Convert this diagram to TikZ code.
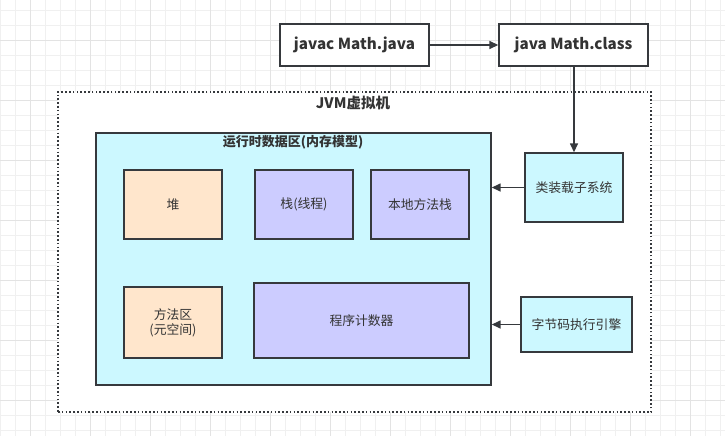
\documentclass[tikz,border=0pt]{standalone}
\usepackage{fontspec}
\setmainfont{Noto Sans CJK SC}
\usetikzlibrary{arrows.meta}
\definecolor{bordercol}{HTML}{36393D}
\definecolor{txtcol}{HTML}{333333}
\definecolor{cyanfill}{HTML}{CCF8FF}
\definecolor{orangefill}{HTML}{FFE6CC}
\definecolor{purplefill}{HTML}{CCCCFF}
\tikzset{
  box/.style={draw=bordercol, line width=1.4pt, inner sep=0pt, align=center, text=txtcol, font=\fontsize{12.8}{15}\selectfont},
  cmdbox/.style={box, fill=white, font=\bfseries\fontsize{15.2}{17}\selectfont},
  conn/.style={draw=bordercol, line width=1.5pt, -{Triangle[length=9pt,width=8pt]}},
}
\begin{document}
\begin{tikzpicture}[x=1pt,y=-1pt]
\useasboundingbox (0,0) rectangle (725,436);
\fill[white] (0,0) rectangle (725,436);
% grid
\foreach \x in {0,15,...,720} \draw[black!6, line width=0.5pt] (\x,0) -- (\x,436);
\foreach \y in {10,25,...,435} \draw[black!6, line width=0.5pt] (0,\y) -- (725,\y);
\foreach \x in {30,90,...,720} \draw[black!11, line width=0.6pt] (\x,0) -- (\x,436);
\foreach \y in {40,100,...,435} \draw[black!11, line width=0.6pt] (0,\y) -- (725,\y);
% JVM container
\node[draw=bordercol, fill=white, line width=1.6pt, dash pattern=on 1.6pt off 2.2pt,
      minimum width=593pt, minimum height=320pt, inner sep=0pt] (jvm) at (354.5,252) {};
\node[text=txtcol, font=\bfseries\fontsize{14.5}{16}\selectfont] (jvmlabel) at (353,103) {JVM虚拟机};
% commands
\node[cmdbox, minimum width=149pt, minimum height=42pt] (javac) at (354.5,45) {javac Math.java};
\node[cmdbox, minimum width=149pt, minimum height=42pt] (java) at (573.5,45) {java Math.class};
% runtime data area
\node[box, fill=cyanfill, minimum width=395pt, minimum height=252pt] (rda) at (293.5,259) {};
\node[text=txtcol, font=\bfseries\fontsize{13}{15}\selectfont] (rdalabel) at (293,142) {运行时数据区(内存模型)};
\node[box, fill=orangefill, minimum width=98pt, minimum height=69pt] (heap) at (173,204.5) {堆};
\node[box, fill=purplefill, minimum width=98pt, minimum height=69pt] (stack) at (304,204.5) {栈(线程)};
\node[box, fill=purplefill, minimum width=98pt, minimum height=69pt] (native) at (420,204.5) {本地方法栈};
\node[box, fill=orangefill, minimum width=98pt, minimum height=71pt] (method) at (173,322.5) {方法区\\(元空间)};
\node[box, fill=purplefill, minimum width=215pt, minimum height=75pt] (pc) at (361.5,320.5) {程序计数器};
% subsystems
\node[box, fill=cyanfill, minimum width=98pt, minimum height=69pt] (loader) at (574,187.5) {类装载子系统};
\node[box, fill=cyanfill, minimum width=111pt, minimum height=55pt] (engine) at (576.5,324.5) {字节码执行引擎};
% connectors
\draw[conn] (javac.east) -- (java.west);
\draw[conn] (java.south -| loader.north) -- (loader.north);
\draw[conn] (loader.west) -- (rda.east |- loader.west);
\draw[conn] (engine.west) -- (rda.east |- engine.west);
\end{tikzpicture}
\end{document}
